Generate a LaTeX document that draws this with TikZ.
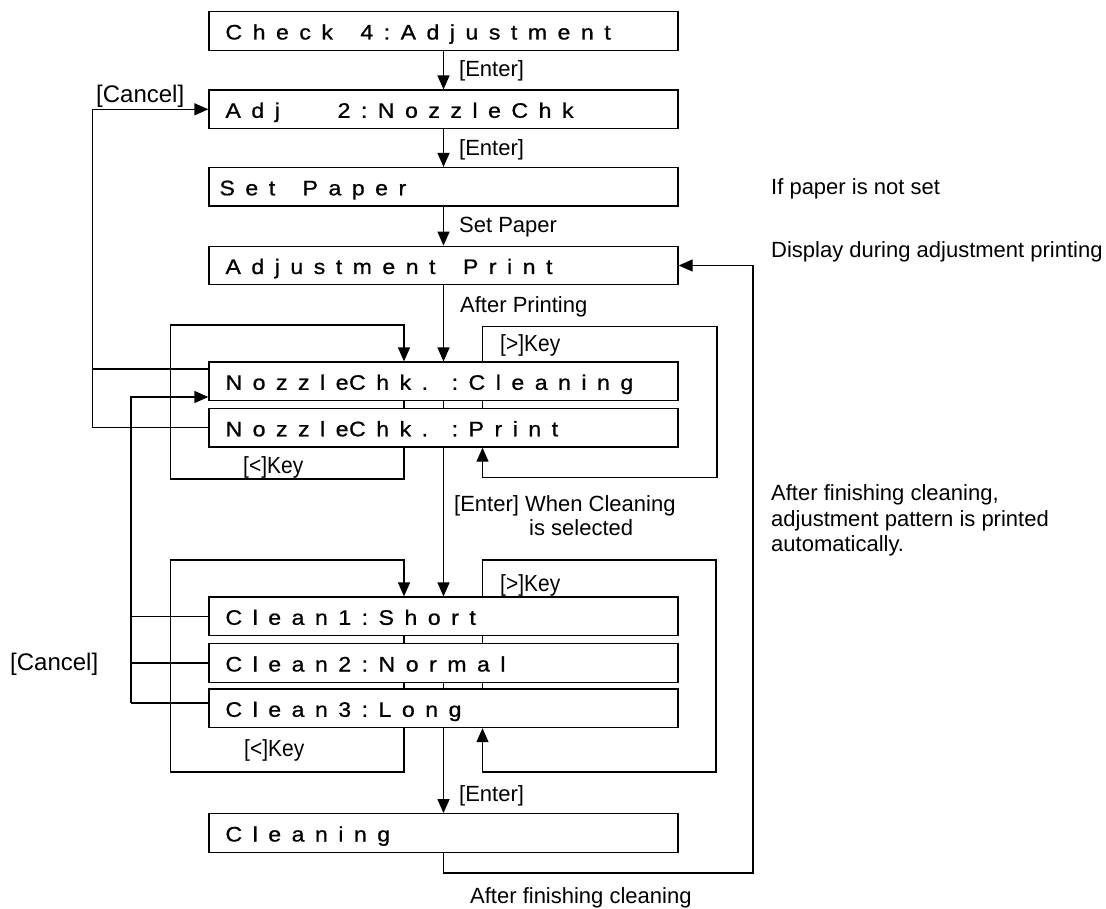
\documentclass[tikz,border=0pt]{standalone}
\usepackage{fontspec}
\setmainfont{Liberation Sans}
\newfontfamily\keyfont[FakeStretch=0.9]{Liberation Sans}
\newfontfamily\lcdfont[FakeStretch=1.1,FakeBold=0.8]{Liberation Sans}
\usetikzlibrary{arrows.meta}
\newdimen\lcdtrk
\lcdtrk=10.5pt
\ExplSyntaxOn
\NewDocumentCommand\lcdtext{m}{\tl_map_inline:nn{#1}{##1\kern\lcdtrk}}
\ExplSyntaxOff
\begin{document}
\begin{tikzpicture}[x=1pt,y=-1pt,
  lcdbox/.style={draw,line width=1.3pt,fill=white,minimum width=469pt,minimum height=38.5pt,
    inner xsep=16.5pt,inner ysep=0pt,text height=17pt,text depth=0pt,font=\lcdfont\fontsize{21}{24}\selectfont},
  lbl/.style={font=\fontsize{22}{24}\selectfont,inner sep=0pt,anchor=base west},
  keylbl/.style={font=\keyfont\fontsize{23.3}{26}\selectfont,inner sep=0pt,anchor=base west},
  conn/.style={line width=1.3pt},
  arr/.style={conn,-{Triangle[length=14pt,width=12pt]}}]
\useasboundingbox (0,0) rectangle (1106,909);

% boxes
\node[lcdbox] (b1) at (443.5,31) {\makebox[436pt][l]{\lcdtext{Check~4:Adjustment}}};
\node[lcdbox] (b2) at (443.5,109.3) {\makebox[436pt][l]{\lcdtext{Adj~~{\kern2.9pt}2:NozzleChk}}};
\node[lcdbox] (b3) at (443.5,186.8) {\makebox[436pt][l]{\hspace*{-6pt}\lcdtext{Set~Paper}}};
\node[lcdbox] (b4) at (443.5,265.5) {\makebox[436pt][l]{\lcdtext{Adjustment~Print}}};
\node[lcdbox] (b5) at (443.5,381.3) {\makebox[436pt][l]{\lcdtext{Nozzle{\kern-20.5pt}Chk.~{\kern-14.3pt}:Cleaning}}};
\node[lcdbox] (b6) at (443.5,427.8) {\makebox[436pt][l]{\lcdtext{Nozzle{\kern-20.5pt}Chk.~{\kern-14.3pt}:Print}}};
\node[lcdbox] (b7) at (443.5,616.3) {\makebox[436pt][l]{\lcdtext{Clean1:Short}}};
\node[lcdbox] (b8) at (443.5,663) {\makebox[436pt][l]{\lcdtext{Clean2:Normal}}};
\node[lcdbox] (b9) at (443.5,708.3) {\makebox[436pt][l]{\lcdtext{Clean3:Long}}};
\node[lcdbox] (b10) at (443.5,833) {\makebox[436pt][l]{\lcdtext{Cleaning}}};

% helper coordinates
\coordinate (xl) at (404,0);
\coordinate (xr) at (482.5,0);
\coordinate (nTL) at (170.5,325);
\coordinate (nBL) at (170.5,479);
\coordinate (nTR) at (717,326.5);
\coordinate (nBR) at (717,477.5);
\coordinate (cTL) at (170.5,560);
\coordinate (cBL) at (170.5,772);
\coordinate (cTR) at (716,560);
\coordinate (cBR) at (716,772);
\coordinate (rB) at (753,873);
\coordinate (k1) at (92.5,369);
\coordinate (k2t) at (131,397);
\coordinate (k2b) at (131,703);

% main flow
\draw[arr] (b1.south) -- (b2.north);
\draw[arr] (b2.south) -- (b3.north);
\draw[arr] (b3.south) -- (b4.north);
\draw[arr] (b4.south) -- (b5.north);
\draw[conn] (b5.south) -- (b6.north);
\draw[arr] (b6.south) -- (b7.north);
\draw[conn] (b8.south) -- (b9.north);
\draw[arr] (b9.south) -- (b10.north);

% nozzle check loops
\draw[arr] (b6.south -| xl) -- (nBL -| xl) -- (nBL) -- (nTL) -- (nTL -| xl) -- (b5.north -| xl);
\draw[conn] (b5.south -| xl) -- (b6.north -| xl);
\draw[arr] (b5.north -| xr) -- (nTR -| xr) -- (nTR) -- (nBR) -- (nBR -| xr) -- (b6.south -| xr);
\draw[conn] (b5.south -| xr) -- (b6.north -| xr);

% cleaning loops
\draw[arr] (b9.south -| xl) -- (cBL -| xl) -- (cBL) -- (cTL) -- (cTL -| xl) -- (b7.north -| xl);
\draw[conn] (b7.south -| xl) -- (b8.north -| xl);
\draw[conn] (b8.south -| xl) -- (b9.north -| xl);
\draw[arr] (b7.north -| xr) -- (cTR -| xr) -- (cTR) -- (cBR) -- (cBR -| xr) -- (b9.south -| xr);
\draw[conn] (b7.south -| xr) -- (b8.north -| xr);
\draw[conn] (b8.south -| xr) -- (b9.north -| xr);

% return after cleaning
\draw[arr] (b10.south) -- (b10.south |- rB) -- (rB) -- (rB |- b4.east) -- (b4.east);

% cancel lines
\draw[arr] (b6.west) -- (b6.west -| k1) -- (b2.west -| k1) -- (b2.west);
\draw[conn] (k1) -- (k1 -| b5.west);
\draw[arr] (k2b) -- (k2t) -- (k2t -| b5.west);
\draw[conn] (b7.west -| k2b) -- (b7.west);
\draw[conn] (b8.west -| k2b) -- (b8.west);
\draw[conn] (k2b) -- (k2b -| b9.west);

% labels
\node[lbl] (l1) at (459,77) {[Enter]};
\node[lbl] (l2) at (459,156) {[Enter]};
\node[lbl] (l3) at (459,233) {Set Paper};
\node[lbl] (l4) at (460,313) {After Printing};
\node[keylbl] (k5) at (500,351.5) {[>]Key};
\node[keylbl] (k6) at (243,473) {[<]Key};
\node[lbl,anchor=north west,align=left,font=\fontsize{22}{23.5}\selectfont] (l7) at (454,495.5)
  {[Enter] When Cleaning\\\hspace*{75pt}is selected};
\node[keylbl] (k8) at (500,591.5) {[>]Key};
\node[keylbl] (k9) at (244,756.5) {[<]Key};
\node[lbl] (l10) at (459,801.5) {[Enter]};
\node[lbl] (l11) at (470,903) {After finishing cleaning};
\node[lbl,font=\fontsize{24}{26}\selectfont] (c1) at (96,103) {[Cancel]};
\node[lbl,font=\fontsize{24}{26}\selectfont] (c2) at (10,670) {[Cancel]};

% side notes
\node[lbl] (s1) at (771,195) {If paper is not set};
\node[lbl] (s2) at (771,258) {Display during adjustment printing};
\node[lbl,anchor=north west,align=left,font=\fontsize{22}{25.5}\selectfont] (s3) at (771,484.6)
  {After finishing cleaning,\\adjustment pattern is printed\\automatically.};
\end{tikzpicture}
\end{document}
